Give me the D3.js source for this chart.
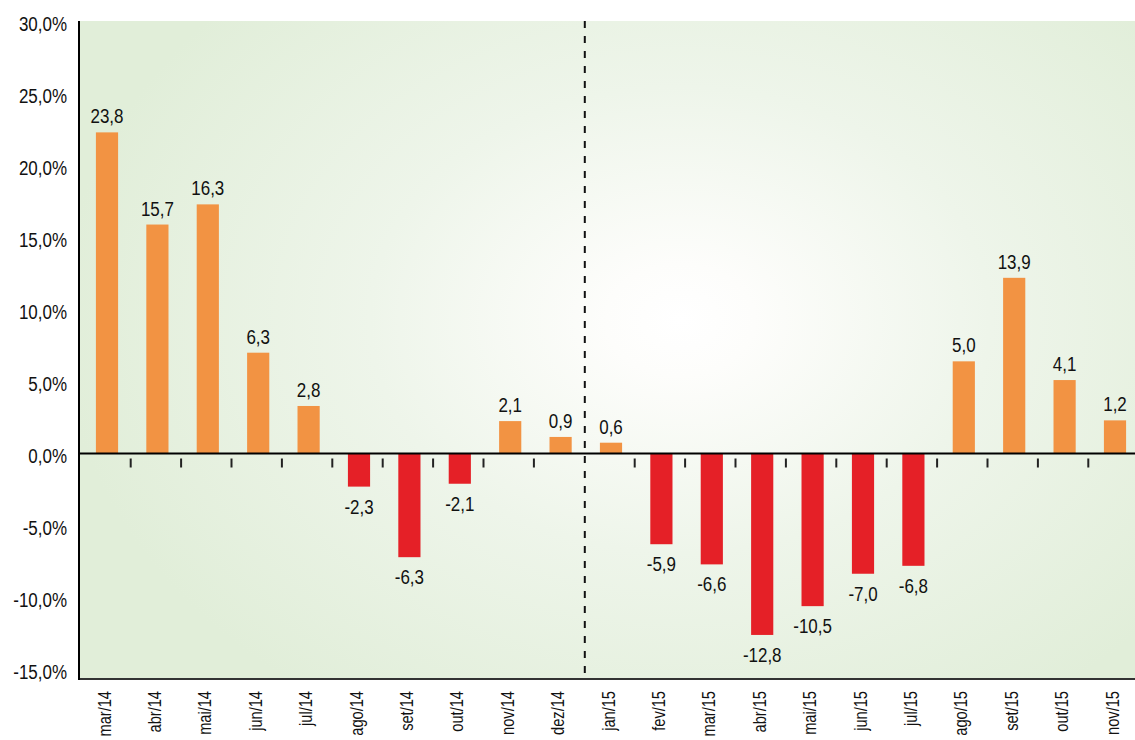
<!DOCTYPE html>
<html>
<head>
<meta charset="utf-8">
<script src="https://cdn.jsdelivr.net/npm/d3@7"></script>
<style>
  html, body { margin: 0; padding: 0; background: #fff; }
  svg { display: block; }
  text { font-family: "Liberation Sans", Arial, sans-serif; fill: #111; font-size: 19.5px; }
</style>
</head>
<body>
<div id="chart"></div>
<script>
// months on the x axis
const months = ['mar/14', 'abr/14', 'mai/14', 'jun/14', 'jul/14', 'ago/14', 'set/14', 'out/14', 'nov/14', 'dez/14',
  'jan/15', 'fev/15', 'mar/15', 'abr/15', 'mai/15', 'jun/15', 'jul/15', 'ago/15', 'set/15', 'out/15', 'nov/15'];

// bar heights as drawn (%)
const values = [22.3, 15.9, 17.3, 7.0, 3.3, -2.3, -7.2, -2.1, 2.25, 1.15,
  0.75, -6.3, -7.7, -12.6, -10.6, -8.35, -7.8, 6.4, 12.2, 5.1, 2.3];

// printed value labels
const labels = ['23,8', '15,7', '16,3', '6,3', '2,8', '-2,3', '-6,3', '-2,1', '2,1', '0,9',
  '0,6', '-5,9', '-6,6', '-12,8', '-10,5', '-7,0', '-6,8', '5,0', '13,9', '4,1', '1,2'];

const yTicks = [30, 25, 20, 15, 10, 5, 0, -5, -10, -15];

const width = 1135, height = 740;
const plotLeft = 79, plotTop = 21, plotBottom = 679;
const squeeze = 'scale(0.87,1)'; // narrow type like the original

const svg = d3.select('#chart').append('svg')
  .attr('width', width)
  .attr('height', height);

// soft green background, lighter in the middle
const defs = svg.append('defs');
const grad = defs.append('radialGradient')
  .attr('id', 'bg')
  .attr('gradientUnits', 'userSpaceOnUse')
  .attr('cx', 680).attr('cy', 320).attr('r', 620)
  .attr('gradientTransform', 'translate(680,320) scale(1,0.75) translate(-680,-320)');
grad.append('stop').attr('offset', '0%').attr('stop-color', '#ffffff');
grad.append('stop').attr('offset', '12%').attr('stop-color', '#fdfdfb');
grad.append('stop').attr('offset', '50%').attr('stop-color', '#eef5ea');
grad.append('stop').attr('offset', '100%').attr('stop-color', '#e1eed9');

svg.append('rect')
  .attr('x', plotLeft).attr('y', plotTop)
  .attr('width', width - plotLeft).attr('height', plotBottom - plotTop)
  .attr('fill', 'url(#bg)');

const y = d3.scaleLinear()
  .domain([-15, 30])
  .range([669.5, 21.5]);

const x = d3.scaleBand()
  .domain(months)
  .range([81.8, 1140.2])
  .paddingInner(0.56)
  .paddingOuter(0.28);

// y tick labels
svg.append('g')
  .selectAll('text')
  .data(yTicks)
  .enter().append('text')
  .attr('transform', d => 'translate(67,' + (y(d) + 2.5) + ') ' + squeeze)
  .attr('dy', '0.35em')
  .attr('text-anchor', 'end')
  .text(d => d3.format('.1f')(d).replace('.', ',').replace('−', '-') + '%');

// bars
svg.append('g')
  .selectAll('rect')
  .data(months)
  .enter().append('rect')
  .attr('x', d => x(d))
  .attr('width', x.bandwidth())
  .attr('y', (d, i) => y(Math.max(0, values[i])))
  .attr('height', (d, i) => Math.abs(y(values[i]) - y(0)))
  .attr('fill', (d, i) => values[i] >= 0 ? '#f29343' : '#e52027');

// value labels
svg.append('g')
  .selectAll('text')
  .data(months)
  .enter().append('text')
  .attr('transform', (d, i) => {
    const ty = values[i] >= 0 ? y(values[i]) - 9 : y(values[i]) + 27;
    return 'translate(' + (x(d) + x.bandwidth() / 2) + ',' + ty + ') ' + squeeze;
  })
  .attr('text-anchor', 'middle')
  .text((d, i) => labels[i]);

// small ticks between bars, under the zero line
const step = x.step();
svg.append('g')
  .selectAll('line')
  .data(months.slice(0, -1).filter(d => d !== 'dez/14'))
  .enter().append('line')
  .attr('x1', d => x(d) + x.bandwidth() + (step - x.bandwidth()) / 2 - 1.5)
  .attr('x2', d => x(d) + x.bandwidth() + (step - x.bandwidth()) / 2 - 1.5)
  .attr('y1', y(0) + 5)
  .attr('y2', y(0) + 14)
  .attr('stroke', '#222')
  .attr('stroke-width', 2);

// dashed divider between years
const divX = x('jan/15') - (step - x.bandwidth()) / 2 - 1;
svg.append('line')
  .attr('x1', divX).attr('x2', divX)
  .attr('y1', plotTop).attr('y2', plotBottom)
  .attr('stroke', '#111')
  .attr('stroke-width', 2)
  .attr('stroke-dasharray', '7,8');

// zero line
svg.append('line')
  .attr('x1', plotLeft).attr('x2', width)
  .attr('y1', y(0)).attr('y2', y(0))
  .attr('stroke', '#000')
  .attr('stroke-width', 2);

// bottom line
svg.append('line')
  .attr('x1', plotLeft).attr('x2', width)
  .attr('y1', plotBottom).attr('y2', plotBottom)
  .attr('stroke', '#333')
  .attr('stroke-width', 2);

// left axis line
svg.append('line')
  .attr('x1', plotLeft).attr('x2', plotLeft)
  .attr('y1', plotTop).attr('y2', plotBottom + 1)
  .attr('stroke', '#000')
  .attr('stroke-width', 2);

// month labels, rotated
svg.append('g')
  .selectAll('text')
  .data(months)
  .enter().append('text')
  .attr('transform', d => 'translate(' + (x(d) + x.bandwidth() / 2 - 3) + ',691) rotate(-90) scale(0.77,1)')
  .attr('dy', '0.35em')
  .attr('text-anchor', 'end')
  .style('font-size', '19px')
  .text(d => d);
</script>
</body>
</html>
